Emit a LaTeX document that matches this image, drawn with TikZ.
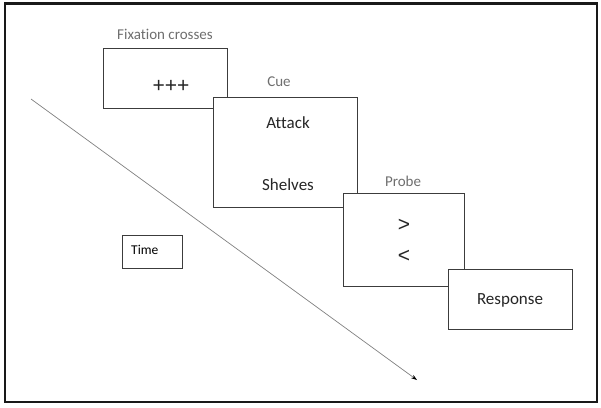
\documentclass[tikz,border=0pt]{standalone}
\usepackage{fontspec}
\setmainfont[Ligatures=NoCommon]{Carlito}
\newfontfamily\symfont{Liberation Sans}
\usetikzlibrary{arrows.meta}
\definecolor{labelgray}{HTML}{6E6E6E}
\definecolor{boxline}{HTML}{3C3C3C}
\begin{document}
\begin{tikzpicture}[x=1pt,y=-1pt,
  stim/.style={draw=boxline,line width=0.9pt,fill=white,rectangle,inner sep=0pt},
  lbl/.style={text=labelgray,font=\fontsize{15}{17}\selectfont,inner sep=0pt},
  big/.style={font=\fontsize{17}{19}\selectfont,inner sep=0pt,text=black!85},
  sym/.style={font=\symfont\fontsize{21}{23}\selectfont,inner sep=0pt,text=black!85}
]
\useasboundingbox (0,0) rectangle (601,407);
\draw[line width=2.2pt,black!90] (5,3.5) rectangle (597,402);
% arrow
\coordinate (tA) at (31,99);
\coordinate (tB) at (417,380);
\draw[gray,line width=0.7pt,-{Stealth[length=6pt,width=4pt,black]}] (tA) -- (tB);
% time box
\node[stim,minimum width=60pt,minimum height=33pt] (time) at (152,251.5) {};
\node[font=\fontsize{13.5}{15}\selectfont,inner sep=0pt,anchor=west] (timet) at (131,250) {Time};
% fixation
\node[stim,minimum width=124pt,minimum height=60pt] (fix) at (165,78.5) {};
\node[sym] (plus) at (171,86) {+++};
\node[lbl] (fixl) at (165,34) {Fixation crosses};
% cue
\node[stim,minimum width=144pt,minimum height=110pt] (cue) at (285,152) {};
\node[big] (attack) at (288,123) {Attack};
\node[big] (shelves) at (288,185) {Shelves};
\node[lbl] (cuel) at (279,82) {Cue};
% probe
\node[stim,minimum width=121pt,minimum height=93pt] (probe) at (403.5,239.5) {};
\node[sym] (gt) at (404,225) {>};
\node[sym] (lt) at (404,256) {<};
\node[lbl] (probel) at (403,181) {Probe};
% response
\node[stim,minimum width=124pt,minimum height=60pt] (resp) at (510,299) {};
\node[big] (respt) at (510,300) {Response};
\end{tikzpicture}
\end{document}
